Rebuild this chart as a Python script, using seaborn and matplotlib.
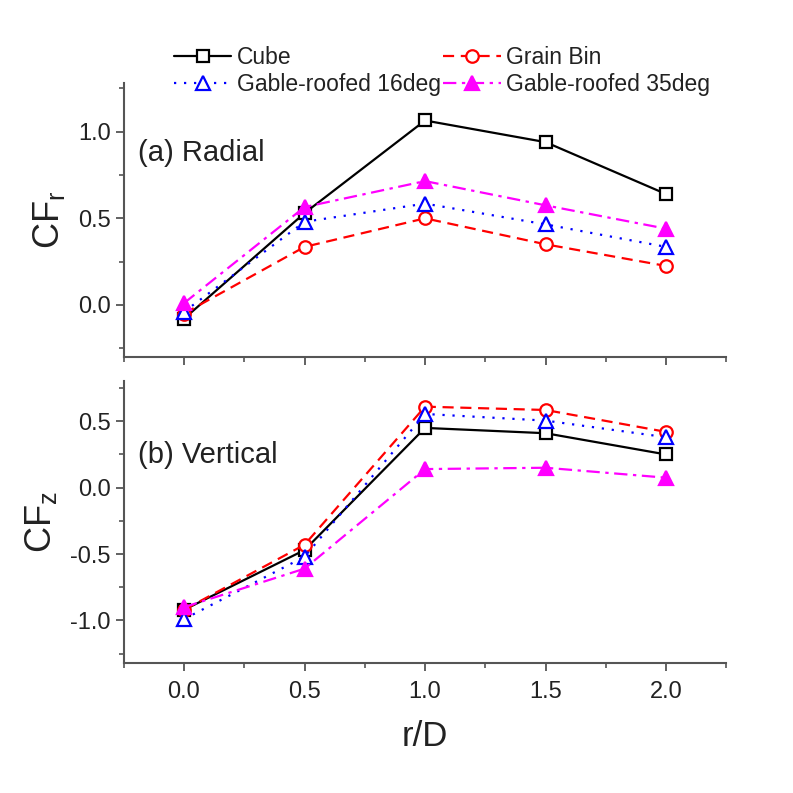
import numpy as np
import pandas as pd
import matplotlib
matplotlib.use("Agg")
import matplotlib.pyplot as plt
from matplotlib.ticker import MultipleLocator
import seaborn as sns

# r/D positions
r_d = [0.0, 0.5, 1.0, 1.5, 2.0]

# (a) radial force coefficient
cfr_cube = [-0.08, 0.53, 1.065, 0.94, 0.64]
cfr_grain = [-0.05, 0.335, 0.50, 0.35, 0.225]
cfr_gable16 = [-0.04, 0.48, 0.585, 0.465, 0.335]
cfr_gable35 = [0.01, 0.565, 0.715, 0.575, 0.44]

# (b) vertical force coefficient
cfz_cube = [-0.92, -0.47, 0.45, 0.41, 0.25]
cfz_grain = [-0.92, -0.43, 0.61, 0.585, 0.42]
cfz_gable16 = [-0.99, -0.52, 0.555, 0.505, 0.38]
cfz_gable35 = [-0.90, -0.61, 0.14, 0.15, 0.075]

labels = ["Cube", "Grain Bin", "Gable-roofed 16deg", "Gable-roofed 35deg"]

sns.set_style("ticks")
plt.rcParams["font.family"] = ["Liberation Sans", "DejaVu Sans"]

# line / marker look for each series
styles = {
    "Cube": dict(color="black", marker="s", linestyle="-", markerfacecolor="white",
                 markeredgecolor="black", markersize=9),
    "Grain Bin": dict(color="#ff0000", marker="o", linestyle=(0, (5, 3)), markerfacecolor="white",
                      markeredgecolor="#ff0000", markersize=9),
    "Gable-roofed 16deg": dict(color="#0000ff", marker="^", linestyle=(0, (1, 3.5)), markerfacecolor="white",
                               markeredgecolor="#0000ff", markersize=10),
    "Gable-roofed 35deg": dict(color="#ff00ff", marker="^", linestyle=(0, (6, 2.5, 1.5, 2.5)),
                               markerfacecolor="#ff00ff", markeredgecolor="#ff00ff", markersize=10),
}

fig = plt.figure(figsize=(7.93, 7.93), dpi=100)
ax1 = fig.add_axes([0.156, 0.550, 0.760, 0.345])
ax2 = fig.add_axes([0.156, 0.164, 0.760, 0.355])

spine_col = "#555555"
text_col = "#222222"


def draw_panel(ax, series, ylim, panel_text, ylabel):
    for name, vals in zip(labels, series):
        sns.lineplot(x=r_d, y=vals, ax=ax, label=name, linewidth=1.6,
                     markeredgewidth=1.6, **styles[name])
    ax.set_xlim(-0.25, 2.25)
    ax.set_ylim(*ylim)
    ax.xaxis.set_major_locator(MultipleLocator(0.5))
    ax.xaxis.set_minor_locator(MultipleLocator(0.25))
    ax.yaxis.set_major_locator(MultipleLocator(0.5))
    ax.yaxis.set_minor_locator(MultipleLocator(0.25))
    ax.yaxis.set_major_formatter(matplotlib.ticker.FormatStrFormatter("%.1f"))
    ax.xaxis.set_major_formatter(matplotlib.ticker.FormatStrFormatter("%.1f"))
    for s in ["top", "right"]:
        ax.spines[s].set_visible(False)
    for s in ["left", "bottom"]:
        ax.spines[s].set_color(spine_col)
        ax.spines[s].set_linewidth(1.5)
    ax.tick_params(which="major", direction="out", length=6, width=1.3,
                   color=spine_col, labelsize=17, labelcolor=text_col)
    ax.tick_params(axis="x", which="major", pad=7)
    ax.tick_params(which="minor", direction="out", length=3.5, width=1.2, color=spine_col)
    ax.text(0.023, panel_text[1], panel_text[0], transform=ax.transAxes,
            fontsize=21, va="center", ha="left", color=text_col)
    ax.set_ylabel(ylabel, fontsize=26, color=text_col, labelpad=8)


draw_panel(ax1, [cfr_cube, cfr_grain, cfr_gable16, cfr_gable35], (-0.3, 1.28),
           ("(a) Radial", 0.745), r"CF$_\mathregular{r}$")
draw_panel(ax2, [cfz_cube, cfz_grain, cfz_gable16, cfz_gable35], (-1.32, 0.8),
           ("(b) Vertical", 0.739), r"CF$_\mathregular{z}$")

ax1.tick_params(axis="x", labelbottom=False)
ax2.set_xlabel("r/D", fontsize=25, color=text_col, labelpad=12)
ax2.get_legend().remove()

# legend above the top panel, 2 columns, row-wise order
handles, leg_labels = ax1.get_legend_handles_labels()
ax1.get_legend().remove()
order = [0, 2, 1, 3]
fig.legend([handles[i] for i in order], [leg_labels[i] for i in order],
           loc="upper left", bbox_to_anchor=(0.205, 0.957), ncol=2, frameon=False,
           fontsize=16.5, handlelength=2.5, handletextpad=0.25, columnspacing=0.1,
           labelspacing=0.2, borderpad=0, labelcolor=text_col)

fig.savefig("out.png", dpi=100)
